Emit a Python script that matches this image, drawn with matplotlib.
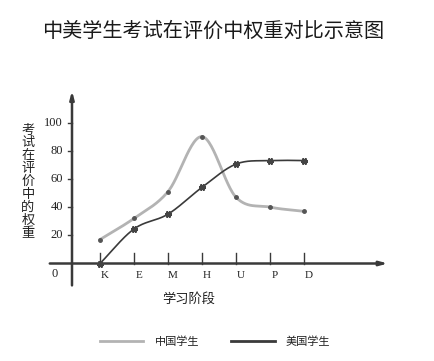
import numpy as np
import matplotlib.pyplot as plt
from matplotlib.lines import Line2D

plt.rcParams["font.family"] = ["Noto Sans CJK SC", "DejaVu Sans"]

# ---- data ----
stages = ["K", "E", "M", "H", "U", "P", "D"]
china = [17, 32, 51, 90, 47, 40, 37]
usa = [0, 24.5, 35, 54, 70.5, 73, 73]
yticks = [20, 40, 60, 80, 100]
title = "中美学生考试在评价中权重对比示意图"
ylab = "考试在评价中的权重"
xlab = "学习阶段"
names = ["中国学生", "美国学生"]

grey = "#b3b3b3"
dark = "#3a3a3a"


def smooth(xs, ys, n=30):
    # catmull-rom style smoothing (like excel smoothed lines)
    xs = np.asarray(xs, float); ys = np.asarray(ys, float)
    px = np.concatenate([[2 * xs[0] - xs[1]], xs, [2 * xs[-1] - xs[-2]]])
    py = np.concatenate([[2 * ys[0] - ys[1]], ys, [2 * ys[-1] - ys[-2]]])
    ox, oy = [], []
    t = np.linspace(0, 1, n)
    for i in range(1, len(px) - 2):
        for p, o in ((px, ox), (py, oy)):
            p0, p1, p2, p3 = p[i - 1], p[i], p[i + 1], p[i + 2]
            o.extend(0.5 * ((2 * p1) + (-p0 + p2) * t + (2 * p0 - 5 * p1 + 4 * p2 - p3) * t ** 2
                            + (-p0 + 3 * p1 - 3 * p2 + p3) * t ** 3))
    return np.array(ox), np.array(oy)


fig = plt.figure(figsize=(4.35, 3.61), dpi=100)
ax = fig.add_axes([0, 0, 1, 1])
# pixel mapping: x index 0 -> 100px, 34px per stage; y 0 -> 263.5px, 1.41px per unit
ax.set_xlim(-100 / 34, 335 / 34)
ax.set_ylim(-(361 - 263.5) / 1.41, 263.5 / 1.41)
ax.axis("off")

x = np.arange(len(stages))

# axes with arrows
x0 = (72 - 100) / 34
ax.annotate("", xy=(x0, 124.5), xytext=(x0, -17.5),
            arrowprops=dict(arrowstyle="-|>,head_length=0.45,head_width=0.12", color=dark, lw=1.8))
ax.annotate("", xy=(8.55, 0), xytext=((47 - 100) / 34, 0),
            arrowprops=dict(arrowstyle="-|>,head_length=0.45,head_width=0.12", color=dark, lw=1.8))

for v in yticks:
    ax.plot([x0 - 0.12, x0], [v, v], color=dark, lw=1)
    ax.text(x0 - 0.27, v, str(v), ha="right", va="center", fontsize=9,
            family="Liberation Serif", color="#222222")
ax.text((55 - 100) / 34, -7.5, "0", ha="center", va="center", fontsize=9,
        family="Liberation Serif", color="#222222")

for i, s in enumerate(stages):
    ax.plot([i, i], [0, 7.5], color=dark, lw=1)
    ax.text(i + 0.15, -8.5, s, ha="center", va="center", fontsize=8,
            family="Liberation Serif", color="#222222")

# curves
sx, sy = smooth(x, china)
ax.plot(sx, sy, color=grey, lw=2, zorder=3)
ax.plot(x, china, "o", color="#555555", ms=2.5, zorder=4)
sx, sy = smooth(x, usa)
ax.plot(sx, sy, color=dark, lw=1.2, zorder=3)
ax.plot(x, usa, marker=(6, 2, 90), ls="none", color="#444444", mec="#444444",
        ms=5, mew=1.5, zorder=4)

# labels
fig.text(213 / 435, 1 - 31 / 361, title, ha="center", va="center", fontsize=14.5,
         fontweight="medium", color="#1a1a1a")
for k, ch in enumerate(ylab):
    fig.text(28 / 435, 1 - (130 + 12.9 * k) / 361, ch, ha="center", va="center",
             fontsize=9.5, color="#222222")
fig.text(189 / 435, 1 - 299 / 361, xlab, ha="center", va="center", fontsize=9.5,
         color="#222222")

# legend
fig.add_artist(Line2D([100 / 435, 143 / 435], [1 - 341 / 361] * 2, color=grey, lw=2))
fig.text(155 / 435, 1 - 342 / 361, names[0], ha="left", va="center", fontsize=8, color="#222222")
fig.add_artist(Line2D([231 / 435, 275 / 435], [1 - 341 / 361] * 2, color=dark, lw=2))
fig.text(286 / 435, 1 - 342 / 361, names[1], ha="left", va="center", fontsize=8, color="#222222")

fig.savefig("out.png", dpi=100)
